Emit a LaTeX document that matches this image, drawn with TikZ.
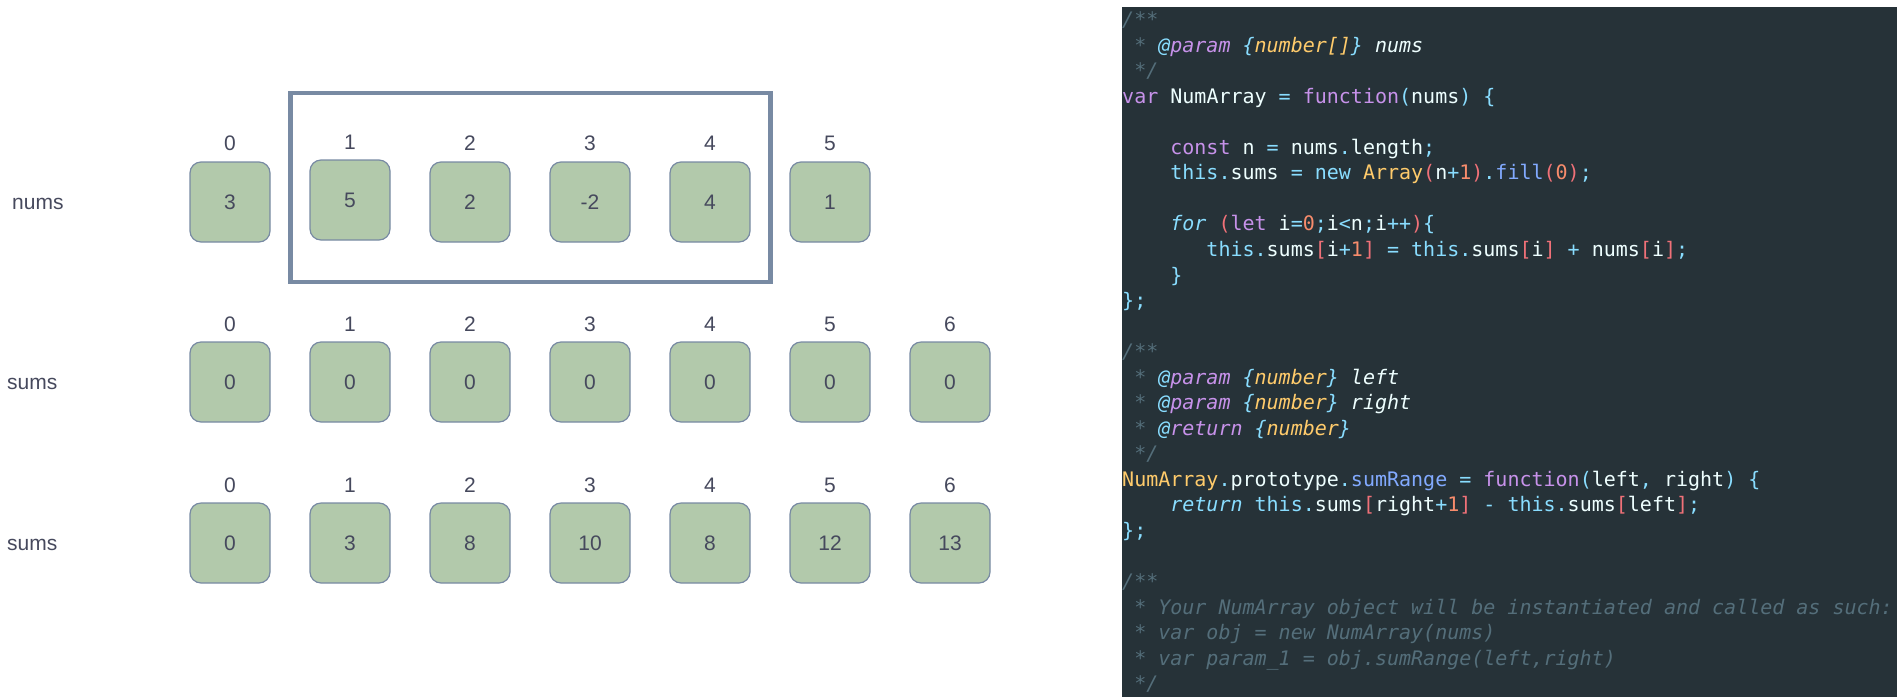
\documentclass[tikz,border=0pt]{standalone}
\usepackage{fontspec}
\setmainfont{Liberation Sans}
\newfontfamily\codefont{DejaVu Sans Mono}

% palette: array cells
\definecolor{cellfill}{HTML}{B2C9AB}
\definecolor{cellline}{HTML}{788AA3}
\definecolor{ink}{HTML}{46495D}
% palette: editor theme
\definecolor{codebg}{HTML}{263238}
\definecolor{cgray}{HTML}{546E7A}
\definecolor{cwhite}{HTML}{EEFFFF}
\definecolor{ccyan}{HTML}{89DDFF}
\definecolor{cpurple}{HTML}{C792EA}
\definecolor{cyellow}{HTML}{FFCB6B}
\definecolor{cred}{HTML}{F07178}
\definecolor{corange}{HTML}{F78C6C}
\definecolor{cblue}{HTML}{82AAFF}

\newcommand\tgr[1]{\textcolor{cgray}{#1}}
\newcommand\tfg[1]{\textcolor{cwhite}{#1}}
\newcommand\tcy[1]{\textcolor{ccyan}{#1}}
\newcommand\tpu[1]{\textcolor{cpurple}{#1}}
\newcommand\tye[1]{\textcolor{cyellow}{#1}}
\newcommand\trd[1]{\textcolor{cred}{#1}}
\newcommand\tog[1]{\textcolor{corange}{#1}}
\newcommand\tbl[1]{\textcolor{cblue}{#1}}

\tikzset{
  cell/.style={draw=cellline, fill=cellfill, line width=1.2pt, rounded corners=11pt,
    minimum width=80pt, minimum height=80pt, inner sep=0pt, text=ink,
    font=\fontsize{21}{25}\selectfont},
  idx/.style={inner sep=0pt, text=ink, font=\fontsize{21}{25}\selectfont},
  rowname/.style={inner sep=0pt, anchor=west, text=ink, font=\fontsize{21}{25}\selectfont},
  selbox/.style={draw=cellline, line width=4.5pt, inner sep=0pt},
  code/.style={anchor=base west, inner sep=0pt, text=cwhite,
    font=\codefont\fontsize{20}{24}\selectfont\frenchspacing},
  cmt/.style={code, text=cgray, font=\codefont\fontsize{20}{24}\selectfont\itshape\frenchspacing}
}

\begin{document}
\begin{tikzpicture}[x=1pt, y=-1pt]
\useasboundingbox (0,0) rectangle (1897,697);

% ---------------- row 1: nums ----------------
\node[rowname] (numsname) at (12,204) {nums};
\foreach \v [count=\i from 0] in {3,5,2,-2,4,1}{
  \pgfmathsetmacro\cx{230+120*\i}
  \pgfmathsetmacro\cy{\i==1 ? 200 : 202}
  \pgfmathsetmacro\ly{\i==1 ? 142 : 143}
  \node[idx] (ni\i) at (\cx,\ly) {\i};
  \node[cell] (n\i) at (\cx,\cy) {\v};
}
% selected range nums[1..4]
\node[selbox, minimum width=480pt, minimum height=189pt] (sel) at (530.5,187.5) {};

% ---------------- row 2: sums (initial) ----------------
\node[rowname] (sumsname0) at (7,384) {sums};
\foreach \v [count=\i from 0] in {0,0,0,0,0,0,0}{
  \pgfmathsetmacro\cx{230+120*\i}
  \node[idx] (ai\i) at (\cx,324) {\i};
  \node[cell] (a\i) at (\cx,382) {\v};
}

% ---------------- row 3: sums (filled) ----------------
\node[rowname] (sumsname1) at (7,545) {sums};
\foreach \v [count=\i from 0] in {0,3,8,10,8,12,13}{
  \pgfmathsetmacro\cx{230+120*\i}
  \node[idx] (bi\i) at (\cx,485) {\i};
  \node[cell] (b\i) at (\cx,543) {\v};
}

% ---------------- code panel ----------------
\node[fill=codebg, minimum width=775pt, minimum height=690pt, inner sep=0pt, anchor=north west]
  (panel) at (1122,7) {};

\node[cmt] (c0)  at (1122,26.50) {/**};
\node[cmt] (c1)  at (1134.04,52.05) {* \tcy{@}\tpu{param} \tcy{\{}\tye{number[]}\tcy{\}} \tfg{nums}};
\node[cmt] (c2)  at (1134.04,77.60) {*/};
\node[code] (c3) at (1122,103.15) {\tpu{var} NumArray \tcy{=} \tpu{function}\tcy{(}nums\tcy{)} \tcy{\{}};
\node[code] (c5) at (1170.16,154.25) {\tpu{const} n \tcy{=} nums\tcy{.}length\tcy{;}};
\node[code] (c6) at (1170.16,179.80) {\tcy{this.}sums \tcy{=} \tcy{new} \tye{Array}\trd{(}n\tcy{+}\tog{1}\trd{)}\tcy{.}\tbl{fill}\trd{(}\tog{0}\trd{)}\tcy{;}};
\node[code] (c8) at (1170.16,230.90) {\tcy{\itshape for} \trd{(}\tpu{let} i\tcy{=}\tog{0}\tcy{;}i\tcy{<}n\tcy{;}i\tcy{++}\trd{)}\tcy{\{}};
\node[code] (c9) at (1206.28,256.45) {\tcy{this.}sums\trd{[}i\tcy{+}\tog{1}\trd{]} \tcy{=} \tcy{this.}sums\trd{[}i\trd{]} \tcy{+} nums\trd{[}i\trd{]}\tcy{;}};
\node[code] (c10) at (1170.16,282.00) {\tcy{\}}};
\node[code] (c11) at (1122,307.55) {\tcy{\};}};

\node[cmt] (c13) at (1122,358.65) {/**};
\node[cmt] (c14) at (1134.04,384.20) {* \tcy{@}\tpu{param} \tcy{\{}\tye{number}\tcy{\}} \tfg{left}};
\node[cmt] (c15) at (1134.04,409.75) {* \tcy{@}\tpu{param} \tcy{\{}\tye{number}\tcy{\}} \tfg{right}};
\node[cmt] (c16) at (1134.04,435.30) {* \tcy{@}\tpu{return} \tcy{\{}\tye{number}\tcy{\}}};
\node[cmt] (c17) at (1134.04,460.85) {*/};
\node[code] (c18) at (1122,486.40) {\tye{NumArray}\tcy{.}prototype\tcy{.}\tbl{sumRange} \tcy{=} \tpu{function}\tcy{(}left\tcy{,} right\tcy{)} \tcy{\{}};
\node[code] (c19) at (1170.16,511.95) {\tcy{\itshape return} \tcy{this.}sums\trd{[}right\tcy{+}\tog{1}\trd{]} \tcy{-} \tcy{this.}sums\trd{[}left\trd{]}\tcy{;}};
\node[code] (c20) at (1122,537.50) {\tcy{\};}};

\node[cmt] (c22) at (1122,588.60) {/**};
\node[cmt] (c23) at (1134.04,614.15) {* Your NumArray object will be instantiated and called as such:};
\node[cmt] (c24) at (1134.04,639.70) {* var obj = new NumArray(nums)};
\node[cmt] (c25) at (1134.04,665.25) {* var param\_1 = obj.sumRange(left,right)};
\node[cmt] (c26) at (1134.04,690.80) {*/};
\end{tikzpicture}
\end{document}
